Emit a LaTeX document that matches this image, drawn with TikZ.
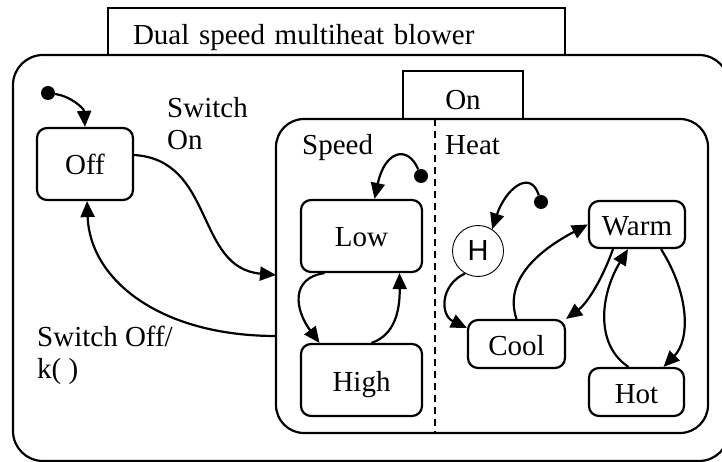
\documentclass[tikz,border=0pt]{standalone}
\usepackage{fontspec}
\setmainfont{Liberation Serif}
\newfontfamily\histfont{Liberation Sans}
\usepackage{tikz}
\usetikzlibrary{positioning,arrows.meta,shapes.geometric}

\begin{document}
\begin{tikzpicture}[
    x=1pt, y=-1pt,
    font=\fontsize{29pt}{33pt}\selectfont,
    superstate/.style={rectangle, draw=black, line width=2.2pt, inner sep=0pt, outer sep=0pt},
    tab/.style={rectangle, draw=black, line width=2.2pt, inner sep=0pt, text depth=0pt},
    state/.style={rectangle, rounded corners=10pt, draw=black, line width=2.2pt, inner sep=0pt, text height=22pt, text depth=0pt},
    initial/.style={circle, fill=black, minimum size=14pt, inner sep=0pt},
    history/.style={circle, draw=black, line width=0.9pt, minimum size=51pt, inner sep=0pt, font=\fontsize{29pt}{33pt}\histfont},
    event/.style={anchor=base west, inner sep=0pt},
    arrow/.style={-{Triangle[length=16pt,width=14pt]}, line width=2.2pt},
    divider/.style={dashed, dash pattern=on 7pt off 5pt, line width=1.8pt}
]
\useasboundingbox (0,0) rectangle (722,462);

% Superstates
\draw[superstate, rounded corners=30pt] (13,55) rectangle (729,461);
\node[tab, minimum width=457pt, minimum height=47pt, text width=407pt, inner xsep=25pt, align=left, text height=27pt] (title) at (336.5,31.5) {Dual speed multiheat blower};
\node[superstate, rounded corners=28pt, minimum width=432pt, minimum height=314pt] (on) at (492,276) {};
\node[tab, minimum width=120pt, minimum height=48pt, text height=30pt] (ontab) at (463,95) {On};
\draw[divider] (435,119) -- (435,433);
\node[event] (speedlabel) at (302,155) {Speed};
\node[event] (heatlabel) at (445,155) {Heat};

% States
\node[initial] (initoff) at (48,93) {};
\node[state, minimum width=96pt, minimum height=72pt] (off) at (85,164) {Off};
\node[initial] (initspeed) at (421,176) {};
\node[state, minimum width=121pt, minimum height=72pt] (low) at (361.5,236) {Low};
\node[state, minimum width=121pt, minimum height=72pt] (high) at (361.5,380) {High};
\node[initial] (initheat) at (541,202) {};
\node[history] (hist) at (478,251) {H};
\node[state, minimum width=97pt, minimum height=48pt] (cool) at (516.5,344) {Cool};
\node[state, minimum width=96pt, minimum height=47pt] (warm) at (637,224.5) {Warm};
\node[state, minimum width=95pt, minimum height=48pt] (hot) at (636.5,392) {Hot};

% Transitions
\draw[arrow] (initoff) .. controls (70,96) and (84,108) .. (off.north);
\draw[arrow] ([yshift=9pt]off.east) .. controls (215,160) and (195,268) .. ([yshift=1pt]on.west);
\draw[arrow] ([yshift=-60pt]on.west) .. controls (160,336) and (90,280) .. ([xshift=2pt]off.south);
\draw[arrow] (initspeed) .. controls (408,145) and (385,150) .. ([xshift=13pt]low.north);
\draw[arrow] ([xshift=-37pt]low.south) .. controls (290,278) and (295,310) .. ([xshift=-42pt]high.north);
\draw[arrow] ([xshift=10pt]high.north) .. controls (395,335) and (400,310) .. ([xshift=38pt]low.south);
\draw[arrow] (initheat) .. controls (530,168) and (505,190) .. (hist.57);
\draw[arrow] (hist.-120) .. controls (440,285) and (440,315) .. ([yshift=16pt]cool.west);
\draw[arrow] (cool.north) .. controls (505,285) and (530,255) .. (warm.west);
\draw[arrow] ([xshift=-24pt]warm.south) .. controls (600,285) and (585,305) .. (cool.north east);
\draw[arrow] ([xshift=-8pt]hot.north) .. controls (595,345) and (600,295) .. ([xshift=-9pt]warm.south);
\draw[arrow] ([xshift=24pt]warm.south) .. controls (690,295) and (690,340) .. ([xshift=27pt]hot.north);

% Events
\node[event] (swon1) at (167,118) {Switch};
\node[event] (swon2) at (167,150) {On};
\node[event] (swoff1) at (37,346) {Switch Off/};
\node[event] (swoff2) at (37,378) {k( )};

\end{tikzpicture}
\end{document}
